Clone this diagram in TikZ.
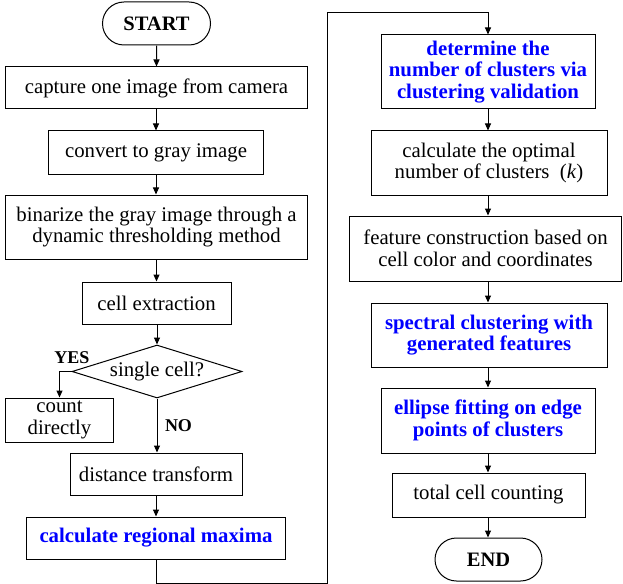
\documentclass[tikz,border=0pt]{standalone}
\usepackage{fontspec}
\setmainfont{Liberation Serif}
\usetikzlibrary{shapes.geometric,shapes.misc,arrows.meta}
\begin{document}
\begin{tikzpicture}[x=1bp,y=-1bp, line width=1bp,
  box/.style={draw, rectangle, inner sep=0pt, align=center, font=\fontsize{20.8bp}{21.5bp}\selectfont},
  bluebox/.style={box, font=\fontsize{20.8bp}{21.5bp}\selectfont\bfseries, text=blue},
  term/.style={box, rounded rectangle, font=\fontsize{20.5bp}{21.5bp}\selectfont\bfseries},
  dec/.style={draw, diamond, aspect=3.2, inner sep=0pt, align=center, font=\fontsize{20.8bp}{21.5bp}\selectfont},
  arr/.style={-{Triangle[length=7bp,width=6bp]}},
  lbl/.style={font=\fontsize{18bp}{20bp}\selectfont\bfseries, inner sep=0pt}]
\useasboundingbox (0,0) rectangle (623,584);
% left column
\node[term, minimum width=108bp, minimum height=43bp] (start) at (156.5,23.5) {START};
\node[box, minimum width=301bp, minimum height=42bp] (capture) at (156.5,88) {capture one image from camera};
\node[box, minimum width=214bp, minimum height=43bp] (convert) at (156,152.5) {convert to gray image};
\node[box, minimum width=301bp, minimum height=64bp] (binarize) at (156.5,227) {binarize the gray image through a\\dynamic thresholding method};
\node[box, minimum width=149bp, minimum height=42bp] (extract) at (156.5,303) {cell extraction};
\node[dec, minimum width=170bp, minimum height=53bp] (single) at (157,371.5) {single cell?};
\node[box, minimum width=107bp, minimum height=44bp] (count) at (59.5,420) {count\\directly};
\node[box, minimum width=172bp, minimum height=42bp] (distance) at (156,474) {distance transform};
\node[bluebox, minimum width=258bp, minimum height=42bp] (regional) at (156,538) {calculate regional maxima};
\node[lbl] (yes) at (72,358) {YES};
\node[lbl] (no) at (178.5,426) {NO};
% right column
\node[bluebox, minimum width=214bp, minimum height=74bp] (determine) at (488,72) {determine the\\number of clusters via\\clustering validation};
\node[box, minimum width=236bp, minimum height=64bp] (optimal) at (489,163) {calculate the optimal\\number of clusters~~(\textit{k})};
\node[box, minimum width=272bp, minimum height=65bp] (feature) at (485.5,248.5) {feature construction based on\\cell color and coordinates};
\node[bluebox, minimum width=236bp, minimum height=64bp] (spectral) at (489,335) {spectral clustering with\\generated features};
\node[bluebox, minimum width=214bp, minimum height=65bp] (ellipse) at (488,420.5) {ellipse fitting on edge\\points of clusters};
\node[box, minimum width=193bp, minimum height=44bp] (total) at (488.5,495) {total cell counting};
\node[term, minimum width=107bp, minimum height=43bp] (end) at (488.5,559.5) {END};
% connector corners
\coordinate (c1) at (156,583);
\coordinate (c2) at (327,583);
\coordinate (c3) at (327,13);
\coordinate (c4) at (488,13);
% arrows
\draw[arr] (start) -- (capture);
\draw[arr] (capture.south -| convert) -- (convert);
\draw[arr] (convert.south) -- (convert.south |- binarize.north);
\draw[arr] (binarize.south -| extract) -- (extract);
\draw[arr] (extract.south -| single) -- (single);
\draw[arr] (single.west) -| (count.north);
\draw[arr] (single.south) -- (single.south |- distance.north);
\draw[arr] (distance) -- (regional);
\draw[arr] (regional.south) -- (c1) -- (c2) -- (c3) -- (c4) -- (determine.north);
\draw[arr] (determine.south) -- (determine.south |- optimal.north);
\draw[arr] (optimal.south -| determine) -- (determine |- feature.north);
\draw[arr] (feature.south -| determine) -- (determine |- spectral.north);
\draw[arr] (spectral.south -| determine) -- (ellipse);
\draw[arr] (ellipse) -- (ellipse |- total.north);
\draw[arr] (total.south -| ellipse) -- (ellipse |- end.north);
\end{tikzpicture}
\end{document}
